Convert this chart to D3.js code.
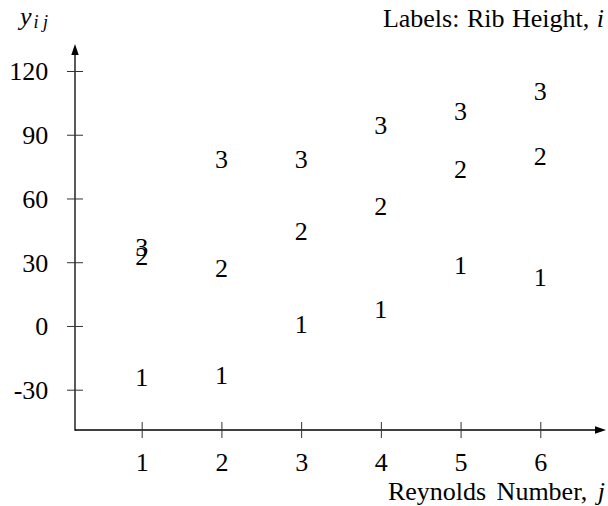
<!DOCTYPE html>
<html>
<head>
<meta charset="utf-8">
<script src="https://cdn.jsdelivr.net/npm/d3@7"></script>
<style>
  html, body { margin: 0; padding: 0; background: #fff; }
  svg { display: block; }
  text { font-family: "Liberation Serif", "Times New Roman", serif; fill: #000; }
</style>
</head>
<body>
<svg id="chart" width="608" height="506"></svg>
<script>
// Reynolds number levels (x) and response y_ij for each rib height i
const reynolds = [1, 2, 3, 4, 5, 6];
const ribHeights = ["1", "2", "3"];
const rib1 = [-24.2, -23.3, 0.9, 7.8, 28.6, 22.8];
const rib2 = [32.8, 27.3, 44.8, 56.5, 73.7, 79.9];
const rib3 = [37.2, 78.5, 78.5, 94.6, 100.9, 110.5];
const yTickValues = [-30, 0, 30, 60, 90, 120];
const xTickValues = [1, 2, 3, 4, 5, 6];

const seriesValues = [rib1, rib2, rib3];

const svg = d3.select("#chart");
const FS = 26;

// frame of the two arrowed axes
const originX = 75, originY = 430, xEnd = 606, yEnd = 44;

const x = d3.scaleLinear().domain([1, 6]).range([141.7, 540.3]);
const y = d3.scaleLinear().domain([-30, 120]).range([389.7, 71]);

// axis lines
svg.append("line")
  .attr("x1", originX).attr("y1", originY)
  .attr("x2", xEnd - 9).attr("y2", originY)
  .attr("stroke", "#000").attr("stroke-width", 1.3);
svg.append("line")
  .attr("x1", originX).attr("y1", originY + 0.65)
  .attr("x2", originX).attr("y2", yEnd + 10)
  .attr("stroke", "#000").attr("stroke-width", 1.3);

// arrow heads
svg.append("path")
  .attr("d", `M${xEnd},${originY} L${xEnd - 11},${originY - 3.7} L${xEnd - 11},${originY + 3.7} Z`)
  .attr("fill", "#000");
svg.append("path")
  .attr("d", `M${originX},${yEnd} L${originX - 3.7},${yEnd + 11} L${originX + 3.7},${yEnd + 11} Z`)
  .attr("fill", "#000");

// plain hyphen-minus for negative tick labels
const plainNumber = d => String(d);

// y axis ticks (crossing the axis line) and labels
const yAxis = d3.axisLeft(y).tickValues(yTickValues).tickSize(8).tickPadding(18.7)
  .tickFormat(plainNumber);
const gy = svg.append("g").attr("transform", `translate(${originX},0)`).call(yAxis);
gy.select(".domain").remove();
gy.selectAll(".tick line").attr("x1", 8).attr("stroke", "#333").attr("stroke-width", 1);
gy.selectAll(".tick text")
  .attr("font-size", FS).attr("font-family", "Liberation Serif, serif")
  .attr("fill", "#000").attr("dy", "0.34em");

// x axis ticks and labels
const xAxis = d3.axisBottom(x).tickValues(xTickValues).tickSize(8).tickPadding(14.3)
  .tickFormat(plainNumber);
const gx = svg.append("g").attr("transform", `translate(0,${originY})`).call(xAxis);
gx.select(".domain").remove();
gx.selectAll(".tick line").attr("y1", -8).attr("stroke", "#333").attr("stroke-width", 1);
gx.selectAll(".tick text")
  .attr("font-size", FS).attr("font-family", "Liberation Serif, serif")
  .attr("fill", "#000");

// data: each observation drawn as its rib-height label
const points = [];
seriesValues.forEach((vals, i) => {
  vals.forEach((v, j) => points.push({ label: ribHeights[i], j: reynolds[j], v }));
});
svg.append("g").selectAll("text")
  .data(points)
  .join("text")
  .attr("x", d => x(d.j))
  .attr("y", d => y(d.v))
  .attr("dy", "0.34em")
  .attr("text-anchor", "middle")
  .attr("font-size", FS)
  .text(d => d.label);

// y axis title: y_ij
const yt = svg.append("text").attr("x", 20).attr("y", 25).attr("font-size", FS);
yt.append("tspan").attr("font-style", "italic").text("y");
yt.append("tspan").attr("font-style", "italic").attr("font-size", 18)
  .attr("dx", 2).attr("dy", 3).text("i j");

// legend note
const lt = svg.append("text").attr("x", 604).attr("y", 27.3)
  .attr("text-anchor", "end").attr("font-size", FS).attr("word-spacing", 1);
lt.append("tspan").text("Labels: Rib Height, ");
lt.append("tspan").attr("font-style", "italic").text("i");

// x axis title
const xt = svg.append("text").attr("x", 605).attr("y", 500)
  .attr("text-anchor", "end").attr("font-size", FS).attr("word-spacing", 4);
xt.append("tspan").text("Reynolds Number, ");
xt.append("tspan").attr("font-style", "italic").text("j");
</script>
</body>
</html>
